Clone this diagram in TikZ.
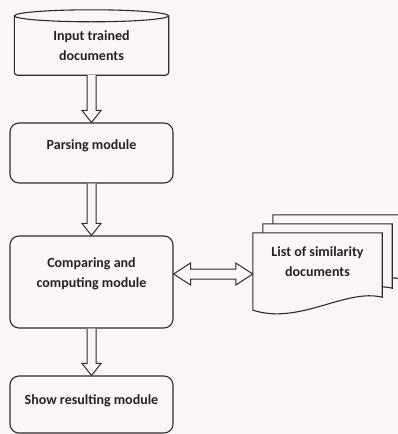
\documentclass[tikz,border=0pt]{standalone}
\usepackage{fontspec}
\setmainfont{Carlito}
\usepackage{tikz}
\usetikzlibrary{calc}
\definecolor{pageclr}{RGB}{252,245,246}
\definecolor{lineclr}{RGB}{50,42,44}
\definecolor{textclr}{RGB}{40,32,36}
\tikzset{
  modbox/.style={rectangle,draw=lineclr,line width=1.1pt,fill=pageclr,
                 rounded corners=9pt,minimum width=163pt,inner sep=0pt},
  store/.style={draw=lineclr,line width=1.1pt,fill=pageclr},
  doc/.style={draw=lineclr,line width=1.1pt,fill=pageclr},
  fat/.style={draw=lineclr,line width=1pt,fill=pageclr,line join=miter},
  txt/.style={font=\fontsize{14}{20}\selectfont\bfseries,text=textclr,
              align=center,inner sep=0pt},
}

\begin{document}
\begin{tikzpicture}[x=1pt,y=-1pt]
\useasboundingbox (0,0) rectangle (398,434);
\fill[pageclr] (0,0) rectangle (398,434);
\clip (0,0) rectangle (398,434);

% Modules (left column)
\node[modbox,minimum height=60pt] (prs) at (91.5,153) {};
\node[modbox,minimum height=92pt] (cmp) at (91.5,282) {};
\node[modbox,minimum height=57pt] (shw) at (91.5,404.5) {};

% Input store
\node[minimum width=154pt,minimum height=59pt,inner sep=0pt] (inp) at (91.5,45.5) {};
\draw[store,rounded corners=3pt] (inp.north west) -- (inp.south west)
  -- (inp.south east) -- (inp.north east);
\draw[store] (inp.north) ellipse [x radius=77, y radius=6];

% Similarity list (stacked documents)
\node[minimum width=129pt,minimum height=82pt,inner sep=0pt] (lst) at (317.5,274) {};
\foreach \dx/\dy in {20/-18,10/-9,0/0}
  \draw[doc] ($(lst.north west)+(\dx,\dy)$) -- ($(lst.north east)+(\dx,\dy)$)
    -- ($(lst.south east)+(\dx,\dy-18)$) .. controls +(-37,-9) and +(47,15) ..
    ($(lst.south west)+(\dx,\dy-5)$) -- cycle;

% Hollow arrows down the column
\foreach \a/\b in {inp/prs,prs/cmp,cmp/shw}
  \filldraw[fat] ($(\a.south)+(-4.5,0)$) -- ($(\b.north)+(-4.5,-12)$)
    -- ($(\b.north)+(-9.5,-12)$) -- (\b.north) -- ($(\b.north)+(9.5,-12)$)
    -- ($(\b.north)+(4.5,-12)$) -- ($(\a.south)+(4.5,0)$);

% Double arrow to the list
\coordinate (dl) at (cmp.east |- lst.west);
\filldraw[fat] (dl) -- ++(17,-11) -- ++(0,6) -- ($(lst.west)+(-17,-5)$)
  -- ++(0,-6) -- (lst.west) -- ++(-17,11) -- ++(0,-6) -- ($(dl)+(17,5)$)
  -- ++(0,6) -- cycle;

% Texts
\node[txt] (inpt) at (91.5,46)  {Input trained\\documents};
\node[txt] (prst) at (91.5,146) {Parsing module};
\node[txt] (cmpt) at (91.5,274) {Comparing and\\computing module};
\node[txt] (lstt) at (317.5,262) {List of similarity\\documents};
\node[txt] (shwt) at (91.5,401) {Show resulting module};
\end{tikzpicture}
\end{document}
